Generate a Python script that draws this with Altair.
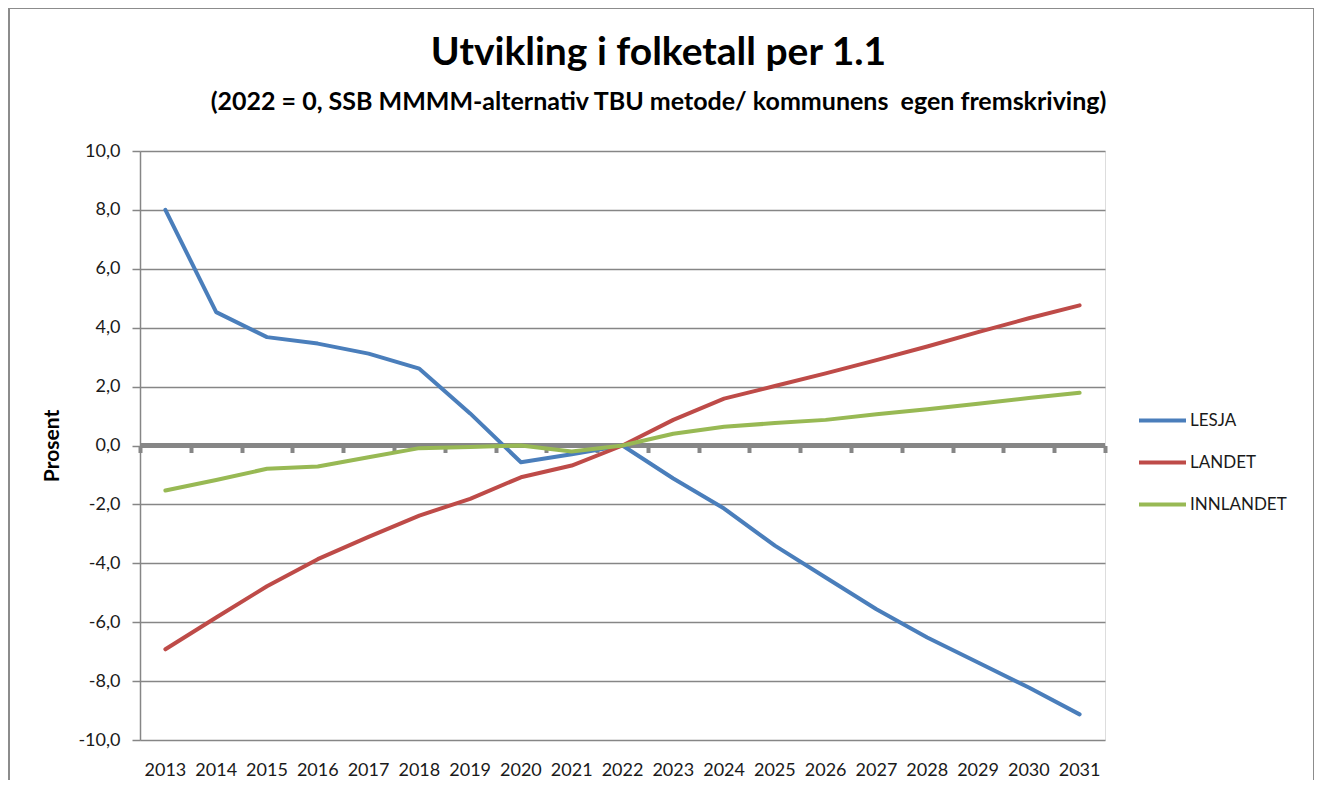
import altair as alt
import pandas as pd

years = [str(y) for y in range(2013, 2032)]
lesja = [8.0, 4.53, 3.68, 3.46, 3.12, 2.61, 1.09, -0.57, -0.30, 0.0,
         -1.12, -2.14, -3.40, -4.48, -5.56, -6.52, -7.37, -8.22, -9.13]
landet = [-6.92, -5.84, -4.78, -3.86, -3.10, -2.38, -1.81, -1.08, -0.68, 0.0,
          0.87, 1.59, 2.02, 2.45, 2.90, 3.36, 3.85, 4.32, 4.76]
innlandet = [-1.53, -1.17, -0.79, -0.71, -0.40, -0.09, -0.05, 0.0, -0.20, 0.0,
             0.40, 0.64, 0.76, 0.87, 1.06, 1.23, 1.42, 1.61, 1.79]
series_names = ["LESJA", "LANDET", "INNLANDET"]
series_colors = ["#4A7EBB", "#BE4B48", "#98B954"]
y_ticks = [-10, -8, -6, -4, -2, 0, 2, 4, 6, 8, 10]

rows = []
for name, vals in zip(series_names, [lesja, landet, innlandet]):
    for yr, v in zip(years, vals):
        rows.append({"year": yr, "serie": name, "value": v})
df = pd.DataFrame(rows)

FONT = "Lato"
GRAY = "#868686"
W, H = 965, 589

xscale = alt.Scale(type="band", paddingInner=0, paddingOuter=0, domain=years)
yscale = alt.Scale(domain=[-10, 10], nice=False)

y_axis = alt.Axis(values=y_ticks, format=".1f",
                  labelExpr="replace(replace(datum.label, '.', ','), '\u2212', '-')",
                  title="Prosent", titleFont=FONT, titleFontSize=21,
                  titleFontWeight="bold", titleColor="#000000",
                  titleX=-88, titleY=H / 2, titleAngle=-90,
                  titleAlign="center", titleBaseline="middle",
                  labelFont=FONT, labelFontSize=18, labelColor="#1a1a1a",
                  labelPadding=12, tickSize=8, tickColor=GRAY, tickWidth=1.5,
                  domainColor=GRAY, domainWidth=1.5,
                  grid=True, gridColor=GRAY, gridWidth=1.5)

zero_rule = alt.Chart(pd.DataFrame({"z": [0]})).mark_rule(
    color=GRAY, strokeWidth=5
).encode(y=alt.Y("z:Q", scale=yscale, axis=y_axis))

lines = alt.Chart(df).mark_line(strokeWidth=4, strokeCap="round", strokeJoin="round").encode(
    x=alt.X("year:N", scale=xscale, sort=years,
            axis=alt.Axis(orient="bottom", title=None, labelAngle=0, domain=False,
                          ticks=False, grid=False, labelPadding=21, labelFontSize=18,
                          labelFont=FONT, labelColor="#1a1a1a")),
    y=alt.Y("value:Q", scale=yscale, axis=y_axis),
    color=alt.Color("serie:N", sort=series_names,
                    scale=alt.Scale(domain=series_names, range=series_colors),
                    legend=alt.Legend(title=None, orient="none", legendX=997, legendY=261,
                                      symbolType="stroke", symbolSize=2209,
                                      symbolStrokeWidth=4, clipHeight=17, rowPadding=24,
                                      labelFont=FONT, labelFontSize=17, labelColor="#1a1a1a",
                                      labelOffset=2, padding=0)),
)

tick_axis = alt.Chart(pd.DataFrame({"year": years, "z": [0] * len(years)})).mark_point(
    opacity=0
).encode(
    x=alt.X("year:N", scale=xscale, sort=years,
            axis=alt.Axis(orient="bottom", offset=-H / 2, labels=False, title=None,
                          domain=False, ticks=True, tickBand="extent", tickSize=7,
                          tickWidth=4, tickColor=GRAY, grid=False)),
    y=alt.Y("z:Q", scale=yscale, axis=y_axis),
)

border = alt.Chart(pd.DataFrame({"b": [0]})).mark_rect(
    filled=False, stroke="#8C8C8C", strokeWidth=2
).encode(
    x=alt.value(-131), x2=alt.value(1174), y=alt.value(-143), y2=alt.value(700)
)

chart = alt.layer(zero_rule, tick_axis, lines, border).resolve_axis(
    x="independent"
).properties(
    width=W, height=H,
    title=alt.TitleParams(
        text="Utvikling i folketall per 1.1",
        subtitle="(2022 = 0, SSB MMMM-alternativ TBU metode/ kommunens\u00a0 egen fremskriving)",
        font=FONT, fontSize=39, fontWeight="bold", color="#000000",
        subtitleFont=FONT, subtitleFontSize=25, subtitleFontWeight="bold",
        subtitleColor="#000000", subtitlePadding=17, anchor="middle", frame="group",
        dx=36, offset=-108,
    ),
    autosize=alt.AutoSizeParams(type="none"),
    padding={"left": 132, "top": 143, "right": 209, "bottom": 40},
).configure_view(stroke=None).configure(background="white")

chart.save("out.html", embed_options={"renderer": "svg", "actions": False})
